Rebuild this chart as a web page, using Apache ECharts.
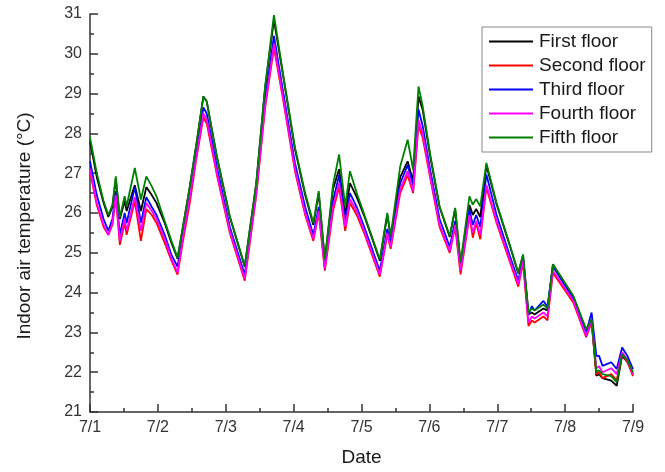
<!DOCTYPE html>
<html>
<head>
<meta charset="utf-8">
<script src="https://cdn.jsdelivr.net/npm/echarts@6/dist/echarts.min.js"></script>
<style>html,body{margin:0;padding:0;background:#fff;}#c{width:665px;height:472px;}</style>
</head>
<body>
<div id="c"></div>
<script>
// Time in days since 7/1 00:00
const days = [0.00,0.10,0.20,0.27,0.33,0.38,0.44,0.51,0.54,0.66,0.75,0.83,0.91,0.98,1.10,1.20,1.29,1.37,1.47,1.57,1.67,1.72,1.87,2.06,2.28,2.45,2.58,2.71,2.85,3.02,3.17,3.29,3.37,3.46,3.58,3.67,3.76,3.83,3.93,4.05,4.27,4.38,4.43,4.57,4.68,4.76,4.84,4.90,5.01,5.15,5.30,5.38,5.46,5.59,5.64,5.69,5.75,5.84,5.99,6.19,6.31,6.38,6.46,6.51,6.55,6.68,6.74,6.82,6.88,7.12,7.31,7.39,7.46,7.50,7.55,7.68,7.76,7.84,7.92,8.00];
const fifthFloor  = [27.90,27.00,26.30,25.95,26.20,26.92,25.89,26.42,26.17,27.13,26.34,26.92,26.67,26.42,25.80,25.30,24.88,25.67,26.67,27.76,28.93,28.80,27.42,25.92,24.67,26.76,29.18,30.97,29.43,27.65,26.50,25.75,26.55,24.83,26.70,27.47,26.17,27.05,26.50,25.92,24.83,26.00,25.42,27.17,27.84,27.09,29.18,28.70,27.50,26.17,25.42,26.13,24.75,26.42,26.21,26.35,26.17,27.26,26.25,25.17,24.50,24.96,23.50,23.60,23.55,23.70,23.60,24.71,24.55,23.92,23.08,23.33,22.00,22.05,21.95,21.90,21.75,22.45,22.30,22.00];
const firstFloor  = [27.80,26.90,26.25,25.90,26.15,26.85,25.85,26.30,26.05,26.70,26.05,26.65,26.45,26.25,25.75,25.25,24.85,25.65,26.65,27.75,28.93,28.80,27.40,25.90,24.65,26.75,29.15,30.85,29.40,27.60,26.45,25.70,26.50,24.80,26.60,27.10,25.95,26.75,26.40,25.88,24.80,25.95,25.40,26.90,27.30,26.80,28.93,28.60,27.45,26.15,25.40,26.10,24.72,26.20,25.95,26.10,25.90,27.20,26.22,25.15,24.48,24.94,23.45,23.50,23.45,23.60,23.55,24.71,24.55,23.90,23.05,23.30,21.91,21.95,21.85,21.79,21.66,22.41,22.25,21.95];
const thirdFloor  = [27.30,26.45,25.85,25.55,25.85,26.55,25.45,26.00,25.75,26.65,25.75,26.40,26.15,25.95,25.45,24.95,24.65,25.50,26.50,27.60,28.65,28.50,27.15,25.65,24.45,26.60,28.85,30.45,29.00,27.25,26.15,25.45,26.15,24.65,26.30,26.95,25.75,26.50,26.15,25.60,24.55,25.60,25.25,26.75,27.20,26.70,28.60,28.20,27.10,25.85,25.15,25.80,24.60,26.09,25.70,25.95,25.65,26.97,25.95,24.90,24.30,24.85,23.45,23.66,23.55,23.79,23.65,24.65,24.50,23.85,23.00,23.50,22.41,22.41,22.16,22.25,22.08,22.62,22.40,22.08];
const fourthFloor = [27.10,26.25,25.70,25.45,25.75,26.45,25.30,25.85,25.55,26.40,25.55,26.25,26.05,25.85,25.35,24.85,24.50,25.40,26.40,27.45,28.50,28.35,27.00,25.55,24.35,26.50,28.70,30.25,28.85,27.10,26.00,25.35,26.05,24.60,26.15,26.75,25.65,26.35,26.05,25.50,24.45,25.50,25.15,26.60,27.05,26.55,28.34,28.00,26.95,25.70,25.04,25.70,24.55,25.95,25.50,25.80,25.45,26.71,25.80,24.80,24.21,24.80,23.25,23.40,23.35,23.50,23.40,24.55,24.40,23.80,22.91,23.30,22.10,22.15,22.00,22.10,21.95,22.50,22.30,21.95];
const secondFloor = [27.05,26.20,25.65,25.45,25.70,26.40,25.20,25.75,25.45,26.30,25.30,26.10,25.95,25.75,25.25,24.80,24.45,25.30,26.25,27.40,28.40,28.25,26.95,25.50,24.30,26.45,28.65,30.15,28.80,27.05,25.95,25.30,26.00,24.55,26.05,26.65,25.55,26.25,25.95,25.45,24.40,25.45,25.10,26.50,26.95,26.50,28.20,27.90,26.90,25.65,25.00,25.65,24.46,25.92,25.38,25.75,25.34,26.65,25.75,24.75,24.15,24.75,23.16,23.30,23.25,23.40,23.30,24.50,24.35,23.75,22.88,23.25,21.95,22.00,21.85,21.95,21.80,22.45,22.25,21.90];

const seriesNames = ['First floor','Second floor','Third floor','Fourth floor','Fifth floor'];
const seriesValues = [firstFloor, secondFloor, thirdFloor, fourthFloor, fifthFloor];
const seriesColors = ['#000000','#ff0000','#0000ff','#ff00ff','#008000'];
const xTickLabels = ['7/1','7/2','7/3','7/4','7/5','7/6','7/7','7/8','7/9'];

const FONT = 'Liberation Sans, Arial, sans-serif';
const chart = echarts.init(document.getElementById('c'), null, {renderer: 'canvas'});
chart.setOption({
  animation: false,
  backgroundColor: '#ffffff',
  grid: {left: 90, right: 32, top: 14, bottom: 59},
  legend: {
    orient: 'vertical',
    left: 482, top: 27,
    padding: [5, 6, 5, 7],
    itemGap: 5,
    itemWidth: 44, itemHeight: 2,
    icon: 'path://M0,0 H44 V2 H0 Z',
    borderColor: '#888888', borderWidth: 1,
    backgroundColor: '#ffffff',
    textStyle: {fontFamily: FONT, fontSize: 19, color: '#1a1a1a', padding: [0,0,0,1]},
    data: seriesNames
  },
  xAxis: {
    type: 'value', min: 0, max: 8, interval: 1,
    name: 'Date', nameLocation: 'middle', nameGap: 36,
    nameTextStyle: {fontFamily: FONT, fontSize: 19, color: '#1a1a1a'},
    axisLine: {show: true, lineStyle: {color: '#333', width: 1.5}},
    axisTick: {show: true, inside: true, length: 8, lineStyle: {color: '#333', width: 1.5}},
    minorTick: {show: true, splitNumber: 2, length: 4, lineStyle: {color: '#333', width: 1.5}},
    splitLine: {show: false},
    axisLabel: {fontFamily: FONT, fontSize: 16, color: '#333', margin: 8,
      formatter: v => xTickLabels[Math.round(v)] || ''}
  },
  yAxis: {
    type: 'value', min: 21, max: 31, interval: 1,
    name: 'Indoor air temperature (°C)', nameLocation: 'middle', nameGap: 56, nameRotate: 90,
    nameTextStyle: {fontFamily: FONT, fontSize: 19, color: '#1a1a1a', padding: [0, 26, 0, 0]},
    axisLine: {show: true, lineStyle: {color: '#333', width: 1.5}},
    axisTick: {show: true, inside: true, length: 8, lineStyle: {color: '#333', width: 1.5}},
    minorTick: {show: true, splitNumber: 2, length: 4, lineStyle: {color: '#333', width: 1.5}},
    splitLine: {show: false},
    axisLabel: {fontFamily: FONT, fontSize: 16, color: '#333', margin: 8}
  },
  series: seriesNames.map((name, i) => ({
    name: name,
    type: 'line',
    symbol: 'none',
    smooth: false,
    color: seriesColors[i],
    lineStyle: {width: 1.8, color: seriesColors[i]},
    data: days.map((d, j) => [d, seriesValues[i][j]])
  }))
});
</script>
</body>
</html>
